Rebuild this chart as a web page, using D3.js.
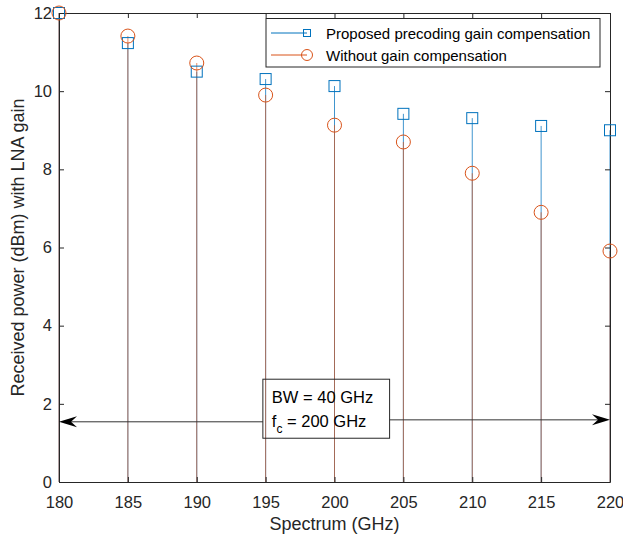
<!DOCTYPE html>
<html>
<head>
<meta charset="utf-8">
<script src="https://cdn.jsdelivr.net/npm/d3@7"></script>
<style>
  body { margin: 0; background: #fff; }
  text { font-family: "Liberation Sans", Arial, sans-serif; }
</style>
</head>
<body>
<script>
const svgWidth = 623;
const svgHeight = 541;

const margin = { top: 13, right: 13, bottom: 59, left: 59 };

// data
const freq = [180, 185, 190, 195, 200, 205, 210, 215, 220];
const proposed = [12, 11.23, 10.5, 10.31, 10.13, 9.42, 9.31, 9.11, 9.0];
const without = [12, 11.41, 10.72, 9.9, 9.13, 8.7, 7.9, 6.9, 5.91];
const xTicks = [180, 185, 190, 195, 200, 205, 210, 215, 220];
const yTicks = [0, 2, 4, 6, 8, 10, 12];
const seriesNames = ["Proposed precoding gain compensation", "Without gain compensation"];
const noteLines = ["BW = 40 GHz", "200 GHz"];

const blue = "#0072BD";
const orange = "#D95319";
const axisColor = "#262626";

const svg = d3.select("body")
  .append("svg")
  .attr("width", svgWidth)
  .attr("height", svgHeight);

const chartWidth = svgWidth - margin.left - margin.right;
const chartHeight = svgHeight - margin.top - margin.bottom;

const chartGroup = svg.append("g")
  .attr("transform", `translate(${margin.left}, ${margin.top})`);

const xScale = d3.scaleLinear().domain([180, 220]).range([0, chartWidth]);
const yScale = d3.scaleLinear().domain([0, 12]).range([chartHeight, 0]);

// stems, blue first then orange on top
chartGroup.selectAll(".stemBlue")
  .data(proposed)
  .enter()
  .append("line")
  .attr("x1", (d, i) => xScale(freq[i]))
  .attr("x2", (d, i) => xScale(freq[i]))
  .attr("y1", yScale(0))
  .attr("y2", d => yScale(d))
  .attr("stroke", blue)
  .attr("stroke-opacity", 0.75)
  .attr("stroke-width", 1);

chartGroup.selectAll(".stemOrange")
  .data(without)
  .enter()
  .append("line")
  .attr("x1", (d, i) => xScale(freq[i]))
  .attr("x2", (d, i) => xScale(freq[i]))
  .attr("y1", yScale(0))
  .attr("y2", d => yScale(d))
  .attr("stroke", orange)
  .attr("stroke-opacity", 0.65)
  .attr("stroke-width", 1);

// axes (box with inward ticks)
const xAxis = d3.axisBottom(xScale).tickValues(xTicks).tickSizeInner(-5).tickSizeOuter(0).tickPadding(14);
const yAxis = d3.axisLeft(yScale).tickValues(yTicks).tickSizeInner(-5).tickSizeOuter(0).tickPadding(7);
const xAxisTop = d3.axisTop(xScale).tickValues(xTicks).tickSizeInner(-5).tickSizeOuter(0).tickFormat("");
const yAxisRight = d3.axisRight(yScale).tickValues(yTicks).tickSizeInner(-5).tickSizeOuter(0).tickFormat("");

const axes = [
  chartGroup.append("g").attr("transform", `translate(0, ${chartHeight})`).call(xAxis),
  chartGroup.append("g").call(yAxis),
  chartGroup.append("g").call(xAxisTop),
  chartGroup.append("g").attr("transform", `translate(${chartWidth}, 0)`).call(yAxisRight)
];
axes.forEach(g => {
  g.select(".domain").attr("stroke", axisColor).attr("stroke-width", 1);
  g.selectAll(".tick line").attr("stroke", axisColor);
  g.selectAll(".tick text")
    .attr("fill", axisColor)
    .style("font-size", "16.5px");
});

// markers
chartGroup.selectAll(".sq")
  .data(proposed)
  .enter()
  .append("rect")
  .attr("x", (d, i) => xScale(freq[i]) - 5.5)
  .attr("y", d => yScale(d) - 5.5)
  .attr("width", 11)
  .attr("height", 11)
  .attr("fill", "none")
  .attr("stroke", blue)
  .attr("stroke-width", 1);

chartGroup.selectAll(".circ")
  .data(without)
  .enter()
  .append("circle")
  .attr("cx", (d, i) => xScale(freq[i]))
  .attr("cy", d => yScale(d))
  .attr("r", 7)
  .attr("fill", "none")
  .attr("stroke", orange)
  .attr("stroke-width", 1);

// annotation arrows
function arrowHead(tipX, tipY, dir) {
  const L = 18, W = 5.5, notch = 12;
  return `M${tipX},${tipY} L${tipX - dir * L},${tipY - W} L${tipX - dir * notch},${tipY} L${tipX - dir * L},${tipY + W} Z`;
}
const leftY = yScale(1.54);
const rightY = yScale(1.59);
chartGroup.append("line")
  .attr("x1", xScale(194.8)).attr("x2", xScale(180) + 10)
  .attr("y1", leftY).attr("y2", leftY)
  .attr("stroke", "#333").attr("stroke-width", 1);
chartGroup.append("path").attr("d", arrowHead(xScale(180), leftY, -1)).attr("fill", "#000");
chartGroup.append("line")
  .attr("x1", xScale(204)).attr("x2", xScale(220) - 10)
  .attr("y1", rightY).attr("y2", rightY)
  .attr("stroke", "#333").attr("stroke-width", 1);
chartGroup.append("path").attr("d", arrowHead(xScale(220), rightY, 1)).attr("fill", "#000");

// annotation text box
const boxX0 = xScale(194.8), boxX1 = xScale(204.0);
const boxY0 = yScale(2.63), boxY1 = yScale(1.12);
chartGroup.append("rect")
  .attr("x", boxX0).attr("y", boxY0)
  .attr("width", boxX1 - boxX0).attr("height", boxY1 - boxY0)
  .attr("fill", "none").attr("stroke", axisColor).attr("stroke-width", 1);

chartGroup.append("text")
  .attr("x", boxX0 + 9).attr("y", boxY0 + 24)
  .style("font-size", "16.5px")
  .text(noteLines[0]);

const fc = chartGroup.append("text")
  .attr("x", boxX0 + 9).attr("y", boxY0 + 47.5)
  .style("font-size", "16.5px");
fc.append("tspan").text("f");
fc.append("tspan").attr("dy", 6).style("font-size", "12px").text("c");
fc.append("tspan").attr("dy", -6).text(" = " + noteLines[1]);

// legend
const legend = svg.append("g");
legend.append("rect")
  .attr("x", 266).attr("y", 18.5)
  .attr("width", 334).attr("height", 48.5)
  .attr("fill", "#fff").attr("stroke", axisColor).attr("stroke-width", 1);

const legendY = [33, 55];
seriesNames.forEach((name, i) => {
  const color = i === 0 ? blue : orange;
  legend.append("line")
    .attr("x1", 271).attr("x2", 307)
    .attr("y1", legendY[i]).attr("y2", legendY[i])
    .attr("stroke", color).attr("stroke-width", 1);
  if (i === 0) {
    legend.append("rect")
      .attr("x", 307 - 3.5).attr("y", legendY[i] - 3.5)
      .attr("width", 7).attr("height", 7)
      .attr("fill", "none").attr("stroke", color);
  } else {
    legend.append("circle")
      .attr("cx", 307).attr("cy", legendY[i]).attr("r", 5.5)
      .attr("fill", "none").attr("stroke", color);
  }
  legend.append("text")
    .attr("x", 326).attr("y", legendY[i] + 5.5)
    .style("font-size", "15px")
    .attr("fill", "#000")
    .text(name);
});

// axis titles
svg.append("text")
  .attr("x", margin.left + chartWidth / 2)
  .attr("y", 530)
  .attr("text-anchor", "middle")
  .attr("fill", axisColor)
  .style("font-size", "18px")
  .text("Spectrum (GHz)");

svg.append("text")
  .attr("transform", `translate(24, ${margin.top + chartHeight / 2}) rotate(-90)`)
  .attr("text-anchor", "middle")
  .attr("fill", axisColor)
  .style("font-size", "18px")
  .text("Received power (dBm) with LNA gain");
</script>
</body>
</html>
